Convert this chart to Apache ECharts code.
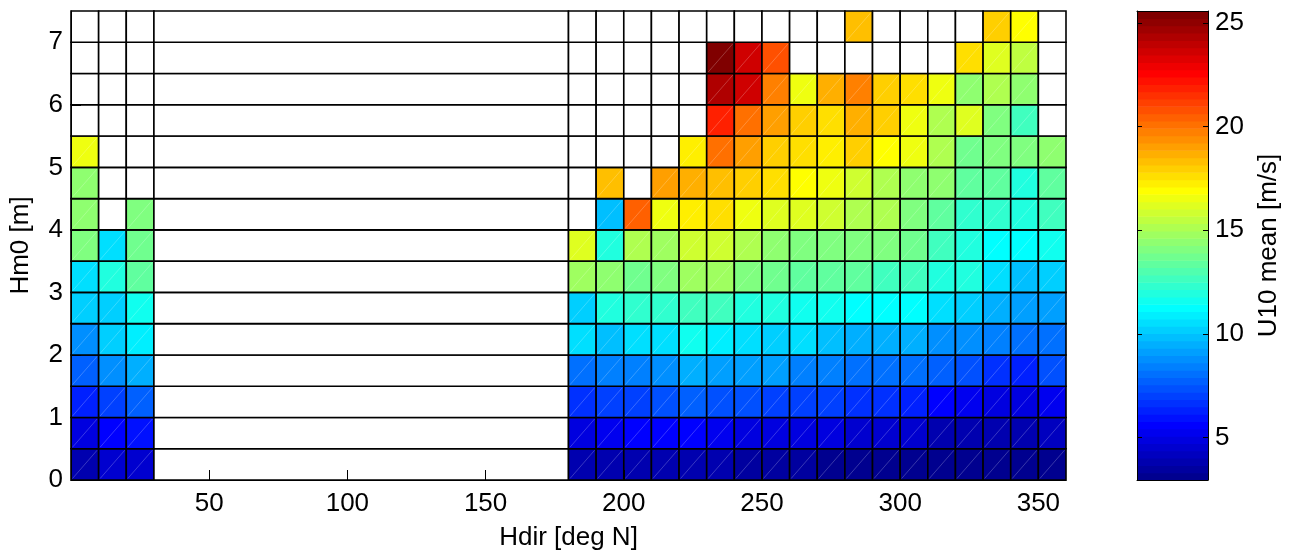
<!DOCTYPE html>
<html><head><meta charset="utf-8">
<script src="https://cdn.jsdelivr.net/npm/echarts@6/dist/echarts.min.js"></script>
<style>html,body{margin:0;padding:0;background:#fff}#c{width:1295px;height:556px}</style>
</head><body><div id="c"></div>
<script>
// ---- data ----
const hdirEdges = [0,10,20,30,180,190,200,210,220,230,240,250,260,270,280,290,300,310,320,330,340,350,360];
const hm0Edges = [0,0.5,1,1.5,2,2.5,3,3.5,4,4.5,5,5.5,6,6.5,7,7.5];
const xTickValues = [50,100,150,200,250,300,350];
const yTickValues = [0,1,2,3,4,5,6,7];
const cbTickValues = [5,10,15,20,25];
const cbMin = 2.95, cbMax = 25.57;
// U10 mean [m/s], one array per Hm0 bin (bottom to top); columns follow hdirEdges cells (4th cell = 30..180 gap)
const u10_hm0_00 = [3.9,4.4,4.4,null,3.7,3.8,3.9,3.7,3.8,3.7,3.5,3.5,3.6,3.1,3.1,3.2,3.1,3.1,3.1,3.1,3.1,3.2];
const u10_hm0_05 = [4.8,5.5,5.9,null,4.85,5.1,5.5,5.5,5.5,5.2,5.0,4.9,4.8,4.8,4.6,4.6,4.4,4.0,3.7,3.7,3.7,4.3];
const u10_hm0_10 = [6.3,7.0,7.6,null,6.6,7.0,7.0,7.3,7.6,7.4,7.2,7.0,6.9,7.1,6.8,6.6,6.4,5.6,5.2,5.0,5.0,5.1];
const u10_hm0_15 = [7.7,8.7,9.4,null,8.0,8.4,8.4,8.7,9.6,9.2,9.0,9.0,8.6,8.4,8.2,8.2,7.9,7.6,7.4,6.7,6.3,7.2];
const u10_hm0_20 = [8.8,10.3,11.0,null,10.6,9.8,10.4,10.5,11.5,10.8,10.5,10.2,10.4,10.0,9.6,9.4,9.4,8.8,8.8,8.4,8.0,8.2];
const u10_hm0_25 = [10.2,10.3,11.5,null,10.2,11.8,12.3,12.3,12.8,12.8,12.1,11.8,11.5,11.6,11.2,11.2,11.2,10.6,10.3,9.6,9.2,9.2];
const u10_hm0_30 = [10.5,11.9,13.4,null,14.8,14.4,13.7,14.0,14.8,14.8,14.1,13.7,13.3,13.3,13.3,12.8,12.8,12.0,11.9,10.6,9.8,10.3];
const u10_hm0_35 = [14.0,10.5,13.7,null,16.2,11.9,15.1,14.8,15.8,15.8,15.1,14.4,14.1,14.1,14.0,14.0,13.7,12.8,12.0,11.2,11.2,11.6];
const u10_hm0_40 = [14.4,null,14.1,null,null,9.8,20.5,16.6,17.3,17.5,16.6,16.2,16.1,15.8,15.1,15.1,14.0,13.4,12.3,12.3,11.8,12.8];
const u10_hm0_45 = [14.4,null,null,null,null,18.3,null,19.0,18.7,18.5,17.8,17.5,16.9,16.6,15.8,15.1,14.4,14.4,13.4,13.5,12.0,13.5];
const u10_hm0_50 = [16.4,null,null,null,null,null,null,null,17.3,20.1,19.0,18.0,17.6,17.2,17.8,16.9,16.4,15.1,13.7,14.0,14.1,14.4];
const u10_hm0_55 = [null,null,null,null,null,null,null,null,null,21.9,20.1,19.0,18.0,17.6,18.7,17.8,16.4,15.1,16.2,14.1,12.8,null];
const u10_hm0_60 = [null,null,null,null,null,null,null,null,null,24.3,23.65,19.9,16.6,18.7,19.6,17.8,17.5,16.6,14.4,15.1,14.4,null];
const u10_hm0_65 = [null,null,null,null,null,null,null,null,null,25.4,23.65,20.9,null,null,null,null,null,null,17.5,16.1,15.6,null];
const u10_hm0_70 = [null,null,null,null,null,null,null,null,null,null,null,null,null,null,18.3,null,null,null,null,18.0,16.9,null];
const u10Rows = [u10_hm0_00,u10_hm0_05,u10_hm0_10,u10_hm0_15,u10_hm0_20,u10_hm0_25,u10_hm0_30,
  u10_hm0_35,u10_hm0_40,u10_hm0_45,u10_hm0_50,u10_hm0_55,u10_hm0_60,u10_hm0_65,u10_hm0_70];

// ---- MATLAB jet(64) ----
const NC = 64;
const jetU = [];
for (let k = 1; k <= 16; k++) jetU.push(k / 16);
for (let k = 1; k < 16; k++) jetU.push(1);
for (let k = 16; k >= 1; k--) jetU.push(k / 16);
function uAt(j){ return (j >= 1 && j <= 47) ? jetU[j - 1] : 0; }
function jetIdx(i){ // i = 1..64
  const r = uAt(i - 24), g = uAt(i - 8), b = uAt(i + 8);
  const h = c => Math.round(c * 255);
  return 'rgb(' + h(r) + ',' + h(g) + ',' + h(b) + ')';
}
function jetColor(v){
  let i = Math.floor((v - cbMin) / (cbMax - cbMin) * NC) + 1;
  i = Math.max(1, Math.min(NC, i));
  return jetIdx(i);
}

// ---- build cells ----
const cells = [];
u10Rows.forEach((row, r) => {
  row.forEach((v, c) => {
    cells.push([hdirEdges[c], hdirEdges[c + 1], hm0Edges[r], hm0Edges[r + 1], v == null ? -1 : v]);
  });
});
const cbBands = [];
for (let i = 1; i <= NC; i++) {
  cbBands.push([cbMin + (i - 1) * (cbMax - cbMin) / NC, cbMin + i * (cbMax - cbMin) / NC, i]);
}

const FONT = "'Liberation Sans', Arial, Helvetica, sans-serif";
const FS = 26;

function renderCell(params, api){
  const p0 = api.coord([api.value(0), api.value(2)]);
  const p1 = api.coord([api.value(1), api.value(3)]);
  const v = api.value(4);
  const x = p0[0], y = p1[1], w = p1[0] - p0[0], h = p0[1] - p1[1];
  const ch = [{type:'rect', shape:{x:x, y:y, width:w, height:h},
    style:{fill: v < 0 ? '#fff' : jetColor(v), stroke:'#000', lineWidth:1.6}}];
  if (v >= 0) ch.push({type:'line', shape:{x1:x + 1.5, y1:y + h - 1.5, x2:x + w - 1.5, y2:y + 1.5},
    style:{stroke:'rgba(255,255,255,0.28)', lineWidth:0.8}});
  return {type:'group', children: ch};
}
function renderBand(params, api){
  const p0 = api.coord([0, api.value(0)]);
  const p1 = api.coord([1, api.value(1)]);
  return {type:'rect', shape:{x:p0[0], y:p1[1], width:p1[0] - p0[0], height:p0[1] - p1[1] + 0.6},
    style:{fill: jetIdx(api.value(2)), stroke:null}};
}

const chart = echarts.init(document.getElementById('c'), null, {renderer:'canvas'});
const labelStyle = {fontFamily: FONT, fontSize: FS, color:'#000'};
chart.setOption({
  backgroundColor:'#fff',
  animation:false,
  grid:[
    {left:70, top:11, width:996, height:469, containLabel:false},
    {left:1137, top:11, width:71, height:469, containLabel:false}
  ],
  xAxis:[
    {type:'value', gridIndex:0, min:0, max:360, interval:50, position:'bottom', z:10,
     name:'Hdir [deg N]', nameLocation:'middle', nameGap:45,
     nameTextStyle:{fontFamily:FONT, fontSize:FS, color:'#000'},
     axisLine:{show:true, onZero:false, lineStyle:{color:'#000', width:1}},
     axisTick:{show:true, inside:true, length:10, lineStyle:{color:'#000'}, customValues: xTickValues},
     axisLabel:Object.assign({margin:11, customValues: xTickValues}, labelStyle),
     splitLine:{show:false}},
    {type:'value', gridIndex:1, min:0, max:1, position:'bottom', show:true, z:10,
     axisLine:{show:true, onZero:false, lineStyle:{color:'#000', width:1}},
     axisTick:{show:false}, axisLabel:{show:false}, splitLine:{show:false}},
    {type:'value', gridIndex:1, min:0, max:1, position:'top', show:true, z:10,
     axisLine:{show:true, onZero:false, lineStyle:{color:'#000', width:1}},
     axisTick:{show:false}, axisLabel:{show:false}, splitLine:{show:false}}
  ],
  yAxis:[
    {type:'value', gridIndex:0, min:0, max:7.5, interval:1, position:'left', z:10,
     name:'Hm0 [m]', nameLocation:'middle', nameGap:37, nameRotate:90,
     nameTextStyle:{fontFamily:FONT, fontSize:FS, color:'#000'},
     axisLine:{show:true, onZero:false, lineStyle:{color:'#000', width:1}},
     axisTick:{show:true, inside:true, length:10, lineStyle:{color:'#000'}, customValues: yTickValues},
     axisLabel:Object.assign({margin:8, customValues: yTickValues}, labelStyle),
     splitLine:{show:false}},
    {type:'value', gridIndex:1, min:cbMin, max:cbMax, position:'right', z:10,
     name:'U10 mean [m/s]', nameLocation:'middle', nameGap:48, nameRotate:90,
     nameTextStyle:{fontFamily:FONT, fontSize:FS, color:'#000'},
     axisLine:{show:true, onZero:false, lineStyle:{color:'#000', width:1}},
     axisTick:{show:true, inside:true, length:5, lineStyle:{color:'#000'}, customValues: cbTickValues},
     axisLabel:Object.assign({margin:7, customValues: cbTickValues}, labelStyle),
     splitLine:{show:false}},
    {type:'value', gridIndex:1, min:cbMin, max:cbMax, position:'left', z:10,
     axisLine:{show:true, onZero:false, lineStyle:{color:'#000', width:1}},
     axisTick:{show:true, inside:true, length:5, lineStyle:{color:'#000'}, customValues: cbTickValues},
     axisLabel:{show:false}, splitLine:{show:false}}
  ],
  series:[
    {type:'custom', xAxisIndex:0, yAxisIndex:0, renderItem:renderCell, data:cells,
     encode:{x:[0,1], y:[2,3]}, clip:false, z:2, silent:true},
    {type:'custom', xAxisIndex:1, yAxisIndex:1, renderItem:renderBand, data:cbBands,
     encode:{y:[0,1]}, clip:true, z:2, silent:true}
  ]
});
</script>
</body></html>
